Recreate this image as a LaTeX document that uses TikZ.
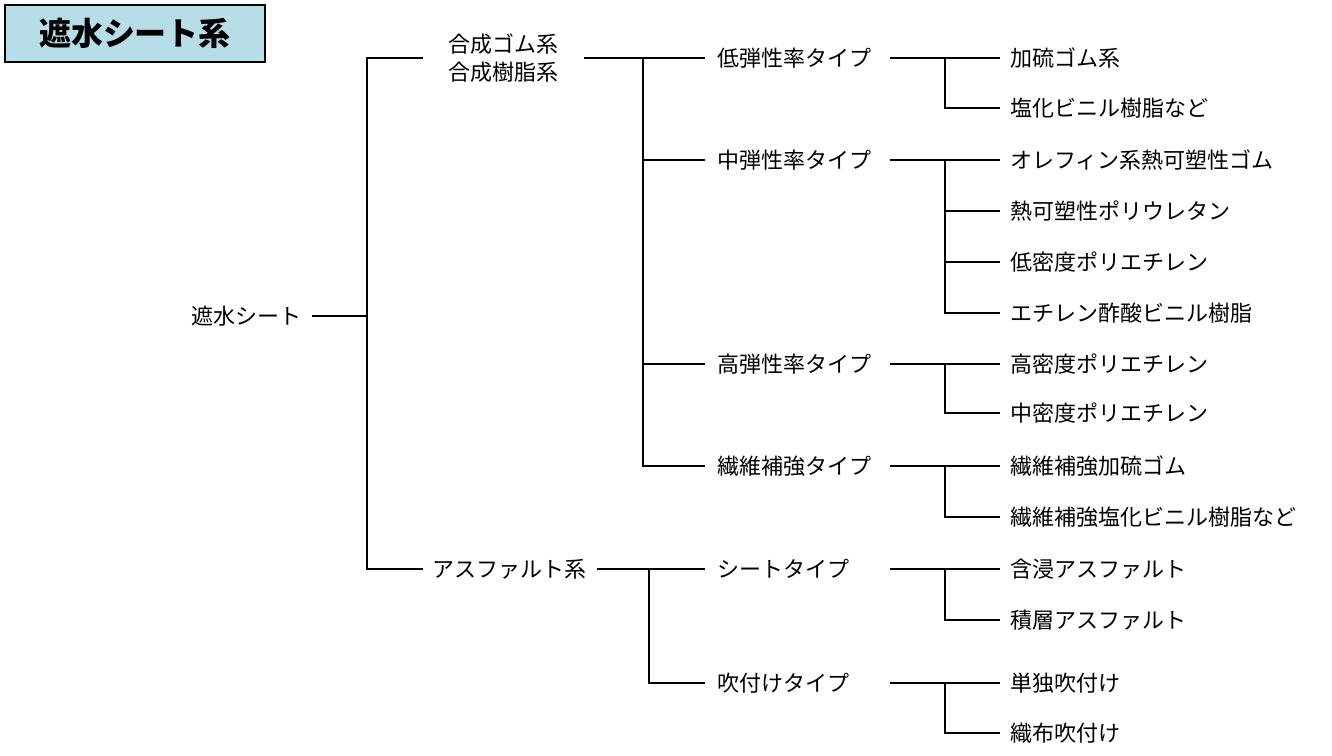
\documentclass[tikz,border=0pt]{standalone}
\usepackage{fontspec}
\setmainfont{Noto Sans CJK JP}
\usetikzlibrary{positioning}
\definecolor{ttlblue}{RGB}{183,221,232}
\definecolor{mydark}{RGB}{0,0,0}
\tikzset{
  ttlbox/.style={rectangle, draw=mydark, fill=ttlblue, line width=1.5pt,
    minimum width=195pt, minimum height=42.75pt, inner sep=0pt,
    font=\fontsize{24}{27}\selectfont\bfseries},
  rootnode/.style={inner xsep=7.5pt, font=\fontsize{16.5}{19}\selectfont},
  grpnode/.style={align=center, inner xsep=0pt, font=\fontsize{16.5}{21}\selectfont},
  typnode/.style={text width=120pt, inner xsep=9pt, align=left,
    font=\fontsize{16.5}{19}\selectfont},
  leafnode/.style={inner xsep=7.5pt, font=\fontsize{16.5}{19}\selectfont},
  line/.style={line width=1pt, color=mydark}
}

\begin{document}
\begin{tikzpicture}[x=0.75pt, y=-0.75pt]
  \useasboundingbox (0,0) rectangle (1332,756);

  % Title
  \node[ttlbox] (ttl) at (135,33.5) {遮水シート系};

  % Root and first level
  \node[rootnode, anchor=east] (root) at (312,316) {遮水シート};
  \node[grpnode, anchor=west, minimum width=120pt] (gom) at (423,58) {合成ゴム系\\合成樹脂系};
  \node[grpnode, anchor=west, minimum width=129.75pt] (asp) at (423,569) {アスファルト系};
  \coordinate (j0) at (367,316);
  \draw[line] (root) -- (j0);
  \draw[line] (j0) |- (gom.west);
  \draw[line] (j0) |- (asp.west);

  % Types
  \node[typnode, anchor=west] (t1) at (705,58) {低弾性率タイプ};
  \node[typnode, anchor=west] (t2) at (705,160) {中弾性率タイプ};
  \node[typnode, anchor=west] (t3) at (705,364) {高弾性率タイプ};
  \node[typnode, anchor=west] (t4) at (705,466) {繊維補強タイプ};
  \node[typnode, anchor=west] (t5) at (705,569) {シートタイプ};
  \node[typnode, anchor=west] (t6) at (705,683) {吹付けタイプ};
  \coordinate (j1) at (643,58);
  \coordinate (j2) at (649,569);
  \draw[line] (gom.east) -- (j1);
  \foreach \t in {t1,t2,t3,t4} \draw[line] (j1) |- (\t.west);
  \draw[line] (asp.east) -- (j2);
  \foreach \t in {t5,t6} \draw[line] (j2) |- (\t.west);

  % Materials
  \foreach \nm/\y/\txt in {k1/58/加硫ゴム系, k2/108/塩化ビニル樹脂など,
      k3/160/オレフィン系熱可塑性ゴム, k4/211/熱可塑性ポリウレタン,
      k5/262/低密度ポリエチレン, k6/313/エチレン酢酸ビニル樹脂,
      k7/364/高密度ポリエチレン, k8/413/中密度ポリエチレン,
      k9/466/繊維補強加硫ゴム, k10/517/繊維補強塩化ビニル樹脂など,
      k11/569/含浸アスファルト, k12/620/積層アスファルト,
      k13/683/単独吹付け, k14/733/織布吹付け}
    \node[leafnode, anchor=west] (\nm) at (1000,\y) {\txt};
  \foreach \t/\c/\y in {t1/c1/58, t2/c2/160, t3/c3/364, t4/c4/466, t5/c5/569, t6/c6/683} {
    \coordinate (\c) at (945,\y);
    \draw[line] (\t.east) -- (\c);
  }
  \foreach \c/\k in {c1/k1, c1/k2, c2/k3, c2/k4, c2/k5, c2/k6, c3/k7, c3/k8,
      c4/k9, c4/k10, c5/k11, c5/k12, c6/k13, c6/k14}
    \draw[line] (\c) |- (\k.west);
\end{tikzpicture}
\end{document}
